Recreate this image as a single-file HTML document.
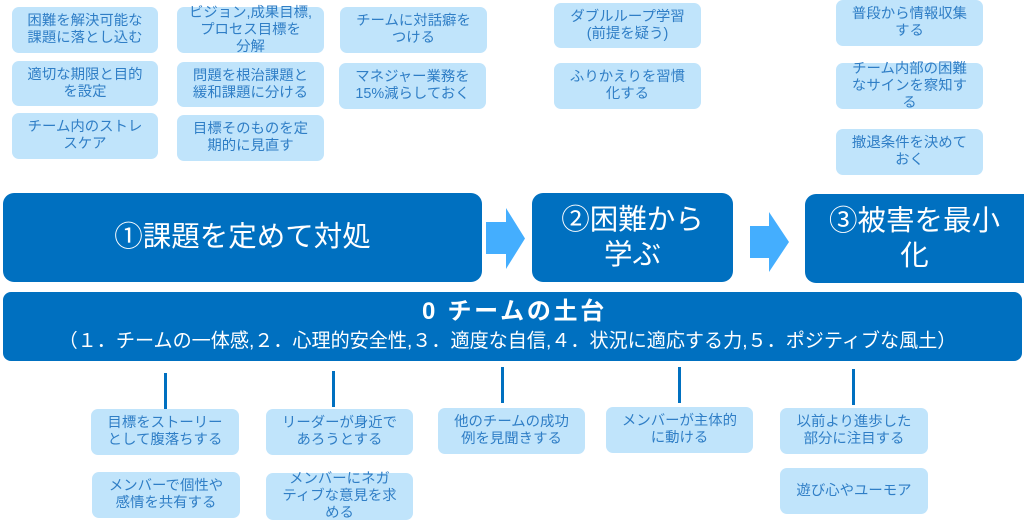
<!DOCTYPE html>
<html>
<head>
<meta charset="utf-8">
<style>
  html,body{margin:0;padding:0;background:#fff;}
  body{width:1024px;height:532px;position:relative;overflow:hidden;
       font-family:"Liberation Sans","Noto Sans CJK JP",sans-serif;}
  .s{position:absolute;background:#C0E4FB;border-radius:7px;color:#2F7EC6;
     font-size:14.4px;line-height:17px;display:flex;align-items:center;justify-content:center;
     text-align:center;white-space:nowrap;overflow:visible;}
  .m{position:absolute;background:#0070C0;border-radius:11px;color:#fff;
     font-size:28.5px;line-height:35px;display:flex;align-items:center;justify-content:center;
     text-align:center;white-space:nowrap;}
  .v{position:absolute;width:3px;background:#0070C0;}
  .f{position:absolute;left:3px;top:292px;width:1019px;height:69px;background:#0070C0;border-radius:8px;color:#fff;}
  .ft{position:absolute;left:2px;width:100%;top:6px;text-align:center;font-weight:bold;font-size:24px;line-height:28px;letter-spacing:2.7px;white-space:nowrap;}
  .fs{position:absolute;left:-5px;width:100%;top:39px;text-align:center;font-size:19.1px;line-height:22px;white-space:nowrap;}
</style>
</head>
<body>

<!-- top column 1 -->
<div class="s" style="left:12px;top:7px;width:146px;height:46px;">困難を解決可能な<br>課題に落とし込む</div>
<div class="s" style="left:12px;top:61px;width:146px;height:45px;">適切な期限と目的<br>を設定</div>
<div class="s" style="left:12px;top:113px;width:146px;height:46px;">チーム内のストレ<br>スケア</div>

<!-- top column 2 -->
<div class="s" style="left:177px;top:7px;width:147px;height:46px;">ビジョン,成果目標,<br>プロセス目標を<br>分解</div>
<div class="s" style="left:177px;top:62px;width:147px;height:45px;">問題を根治課題と<br>緩和課題に分ける</div>
<div class="s" style="left:177px;top:115px;width:147px;height:46px;">目標そのものを定<br>期的に見直す</div>

<!-- top column 3 -->
<div class="s" style="left:340px;top:7px;width:147px;height:46px;">チームに対話癖を<br>つける</div>
<div class="s" style="left:339px;top:63px;width:147px;height:46px;">マネジャー業務を<br>15%減らしておく</div>

<!-- top column 4 -->
<div class="s" style="left:554px;top:3px;width:147px;height:45px;">ダブルループ学習<br>(前提を疑う)</div>
<div class="s" style="left:554px;top:63px;width:147px;height:46px;">ふりかえりを習慣<br>化する</div>

<!-- top column 5 -->
<div class="s" style="left:836px;top:0px;width:147px;height:46px;">普段から情報収集<br>する</div>
<div class="s" style="left:836px;top:63px;width:147px;height:46px;">チーム内部の困難<br>なサインを察知す<br>る</div>
<div class="s" style="left:836px;top:129px;width:147px;height:46px;">撤退条件を決めて<br>おく</div>

<!-- main boxes -->
<div class="m" style="left:3px;top:193px;width:479px;height:89px;">①課題を定めて対処</div>
<div class="m" style="left:532px;top:193px;width:201px;height:89px;">②困難から<br>学ぶ</div>
<div class="m" style="left:805px;top:194px;width:219px;height:89px;border-radius:11px 0 0 11px;">③被害を最小<br>化</div>

<!-- arrows -->
<svg style="position:absolute;left:0;top:0;" width="1024" height="532">
  <polygon points="486,222 506,222 506,208 525,238.5 506,269 506,254 486,254" fill="#44AEFE"/>
  <polygon points="750,226 769,226 769,212 789,242 769,272 769,258 750,258" fill="#44AEFE"/>
</svg>

<!-- foundation -->
<div class="f">
  <div class="ft">0 チームの土台</div>
  <div class="fs">（１．チームの一体感,２．心理的安全性,３．適度な自信,４．状況に適応する力,５．ポジティブな風土）</div>
</div>

<!-- connectors -->
<div class="v" style="left:164px;top:373px;height:36px;"></div>
<div class="v" style="left:332px;top:371px;height:36px;"></div>
<div class="v" style="left:501px;top:367px;height:36px;"></div>
<div class="v" style="left:678px;top:367px;height:36px;"></div>
<div class="v" style="left:852px;top:369px;height:36px;"></div>

<!-- bottom boxes -->
<div class="s" style="left:91px;top:409px;width:148px;height:46px;">目標をストーリー<br>として腹落ちする</div>
<div class="s" style="left:92px;top:472px;width:148px;height:46px;">メンバーで個性や<br>感情を共有する</div>

<div class="s" style="left:266px;top:409px;width:147px;height:46px;">リーダーが身近で<br>あろうとする</div>
<div class="s" style="left:266px;top:473px;width:147px;height:47px;">メンバーにネガ<br>ティブな意見を求<br>める</div>

<div class="s" style="left:438px;top:408px;width:147px;height:46px;">他のチームの成功<br>例を見聞きする</div>

<div class="s" style="left:606px;top:407px;width:147px;height:46px;">メンバーが主体的<br>に動ける</div>

<div class="s" style="left:780px;top:408px;width:148px;height:46px;">以前より進歩した<br>部分に注目する</div>
<div class="s" style="left:780px;top:468px;width:148px;height:46px;">遊び心やユーモア</div>

</body>
</html>
